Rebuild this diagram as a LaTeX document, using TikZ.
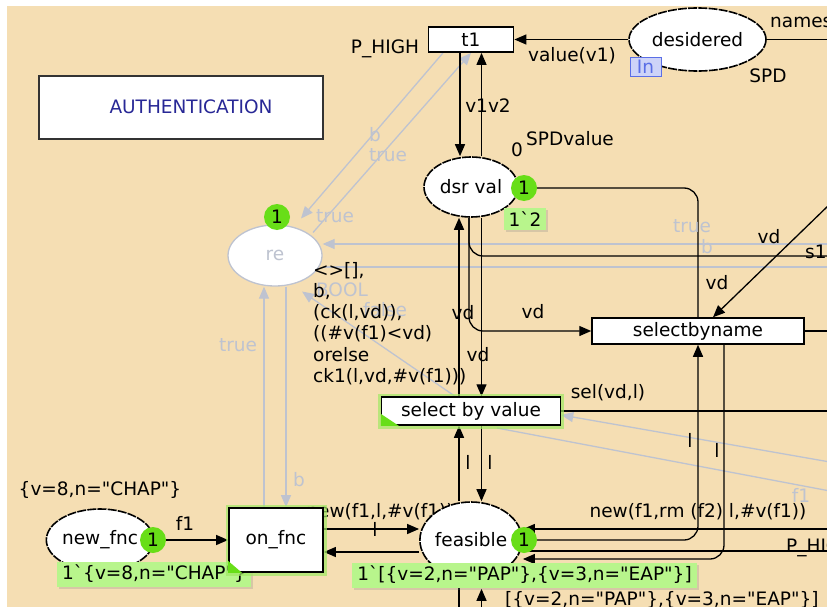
\documentclass[tikz,border=0pt]{standalone}
\usepackage{fontspec}
\setmainfont{DejaVu Sans}
\usetikzlibrary{arrows.meta,shapes.geometric,shadows}
\definecolor{canvas}{RGB}{245,222,179}
\definecolor{faded}{RGB}{190,195,208}
\definecolor{tokenGreen}{RGB}{104,222,24}
\definecolor{markGreen}{RGB}{184,245,140}
\definecolor{glowGreen}{RGB}{160,232,100}
\definecolor{authBlue}{RGB}{40,40,150}
\definecolor{portBlue}{RGB}{90,110,230}
\pgfdeclarelayer{canvasLayer}
\pgfdeclarelayer{arcLayer}
\pgfsetlayers{canvasLayer,arcLayer,main}
\newcommand{\dq}{\textquotedbl}

\begin{document}
\begin{tikzpicture}[x=1pt,y=-1pt,
	every node/.style={font=\fontsize{18.5}{21.2}\selectfont,inner sep=0pt},
	place/.style={shape=ellipse,draw,line width=1.6pt,dash pattern=on 9pt off 1.2pt,fill=white,minimum width=94pt,minimum height=60pt},
	trans/.style={shape=rectangle,draw,line width=1.8pt,fill=white},
	active/.style={preaction={draw=glowGreen,line width=7pt,opacity=0.7}},
	token/.style={shape=circle,fill=tokenGreen,minimum size=26pt},
	marking/.style={fill=markGreen,inner xsep=5pt,minimum height=25pt,drop shadow={shadow xshift=2pt,shadow yshift=-2pt,opacity=0.25}},
	cpnarc/.style={line width=1.3pt},
	arrowEnd/.style={-{Triangle[length=12pt,width=10pt]}},
	ghost/.style={faded,line width=1.3pt}]
	\useasboundingbox (0,0) rectangle (827,607);
	\begin{pgfonlayer}{canvasLayer}
		\fill[white] (0,0) rectangle (827,607);
		\fill[canvas] (7,6) rectangle (827,607);
	\end{pgfonlayer}

	\node (authNode) at (181,107.5)[trans,draw=black!80,line width=2pt,minimum width=284pt,minimum height=63pt] {};
	\node (authText) at (191,107)[text=authBlue] {AUTHENTICATION};

	\node (t1Node) at (471,39.5)[trans,minimum width=85pt,minimum height=25pt] {t1};
	\node (desideredNode) at (697.5,39.5)[place,minimum width=137pt,minimum height=63pt] {desidered};
	\node (inTag) at (645.5,66.5)[draw=portBlue,fill=portBlue!30,text=portBlue,minimum width=31pt,minimum height=19pt] {In};

	\node (dsrValNode) at (471,187)[place] {dsr val};
	\node (dsrTok) at (524,188)[token] {1};
	\node (dsrMark) at (525,219)[marking,minimum height=22pt] {1\textasciigrave 2};

	\node (reNode) at (275,255.5)[place,draw=faded,solid,line width=1.3pt,text=faded,minimum height=61pt] {re};
	\node (reTok) at (277,217)[token] {1};

	\node (selValNode) at (471,411)[trans,active,line width=1.5pt,minimum width=179pt,minimum height=28pt] {select by value};
	\fill[tokenGreen] (selValNode.south west) -- ++(0,-12) -- ++(18,12) -- cycle;
	\node (selNameNode) at (698,331)[trans,line width=1.5pt,minimum width=212pt,minimum height=26pt] {selectbyname};

	\node (newFncNode) at (100,540)[place,minimum height=62pt] {new\_fnc};
	\node (newTok) at (153,540)[token] {1};
	\node (newMark) at (154,574)[marking] {1\textasciigrave\{v=8,n=\dq CHAP\dq\}};
	\node (onFncNode) at (276,540)[trans,active,minimum width=94pt,minimum height=64pt] {on\_fnc};
	\fill[tokenGreen] (onFncNode.south west) -- ++(0,-12) -- ++(14,12) -- cycle;

	\node (feasibleNode) at (471,540)[place,minimum width=96pt,minimum height=76pt] {feasible};
	\node (feasTok) at (524,540)[token] {1};
	\node (feasMark) at (524.5,575)[marking] {1\textasciigrave[\{v=2,n=\dq PAP\dq\},\{v=3,n=\dq EAP\dq\}]};

	\coordinate (namesEnd) at (830,39.5);
	\coordinate (s1End) at (830,256);
	\coordinate (vdStart) at (830,204);
	\coordinate (selNameEnd) at (830,331);
	\coordinate (selEnd) at (830,411);
	\coordinate (newEnd) at (830,529);
	\coordinate (pHighEnd) at (830,551);
	\coordinate (bottomLeft) at (459,612);
	\coordinate (bottomRight) at (481.5,612);
	\coordinate (grayInEnd) at (830,244);
	\coordinate (grayOutEnd) at (830,267);
	\coordinate (graySelEnd) at (830,462);
	\coordinate (grayLowStart) at (497,428);
	\coordinate (grayLowEnd) at (830,491);

	\begin{pgfonlayer}{arcLayer}
		\draw[ghost,arrowEnd] ([xshift=-28pt]t1Node.south) -- ([shift={(26,-37)}]reNode.center);
		\draw[ghost,arrowEnd] ([shift={(38,-23)}]reNode.center) -- (t1Node.south);
		\draw[ghost,arrowEnd] (grayInEnd) -- ([yshift=11.5pt]reNode.east);
		\draw[ghost] ([yshift=-11.5pt]reNode.east) -- (grayOutEnd);
		\draw[ghost,arrowEnd] ([xshift=-12pt]onFncNode.north) -- ([xshift=-11pt]reNode.south);
		\draw[ghost,arrowEnd] ([xshift=11pt]reNode.south) -- ([xshift=10pt]onFncNode.north);
		\draw[ghost,arrowEnd] ([xshift=-16pt]selValNode.north) -- ([shift={(27,36)}]reNode.center);
		\draw[ghost,arrowEnd] (graySelEnd) -- ([yshift=-4pt]selValNode.east);
		\draw[ghost] (grayLowStart) -- (grayLowEnd);

		\draw[cpnarc,arrowEnd] (desideredNode.west) -- (t1Node.east);
		\draw[cpnarc] (desideredNode.east) -- (namesEnd);
		\draw[cpnarc,arrowEnd] ([xshift=-11pt]t1Node.south) -- ([xshift=-11pt]dsrValNode.north);
		\draw[cpnarc,arrowEnd] ([xshift=10.5pt]dsrValNode.north) -- ([xshift=10.5pt]t1Node.south);
		\draw[cpnarc,arrowEnd] ([xshift=-12pt]selValNode.north) -- ([xshift=-12pt]dsrValNode.south);
		\draw[cpnarc,arrowEnd] ([xshift=10.5pt]dsrValNode.south) -- ([xshift=10.5pt]selValNode.north);
		\draw[cpnarc,arrowEnd,rounded corners=14pt] ([xshift=-2pt]dsrValNode.south) |- (selNameNode.west);
		\draw[cpnarc,rounded corners=14pt] (s1End) -| ([xshift=-2pt]dsrValNode.south);
		\draw[cpnarc,rounded corners=14pt] (dsrTok.east) -| (selNameNode.north);
		\draw[cpnarc,arrowEnd] (vdStart) -- ([xshift=15pt]selNameNode.north);
		\draw[cpnarc] (selNameNode.east) -- (selNameEnd);
		\draw[cpnarc,arrowEnd] ([xshift=-12pt]feasibleNode.north) -- ([xshift=-12pt]selValNode.south);
		\draw[cpnarc,arrowEnd] ([xshift=10.5pt]selValNode.south) -- ([xshift=10.5pt]feasibleNode.north);
		\draw[cpnarc] (selValNode.east) -- (selEnd);
		\draw[cpnarc,arrowEnd,rounded corners=14pt] (feasTok.east) -| (selNameNode.south);
		\draw[cpnarc,arrowEnd,rounded corners=14pt] ([xshift=26pt]selNameNode.south) |- ([yshift=-19pt]feasibleNode.east);
		\draw[cpnarc,arrowEnd] (newEnd) -- ([yshift=11pt]feasibleNode.east);
		\draw[cpnarc] ([yshift=-11pt]feasibleNode.east) -- (pHighEnd);
		\draw[cpnarc,arrowEnd] ([yshift=11pt]onFncNode.east) -- ([yshift=11pt]feasibleNode.west);
		\draw[cpnarc,arrowEnd] ([yshift=-12pt]feasibleNode.west) -- ([yshift=-12pt]onFncNode.east);
		\draw[cpnarc,arrowEnd] (newTok.east) -- (onFncNode.west);
		\draw[cpnarc] ([xshift=-12pt]feasibleNode.south) -- (bottomLeft);
		\draw[cpnarc,arrowEnd] (bottomRight) -- ([xshift=10.5pt,yshift=-10pt]feasibleNode.south);

		\node (newLabel) at (380,512) {new(f1,l,\#v(f1))};
	\end{pgfonlayer}

	\node (pHighTop) at (385,49) {P\_HIGH};
	\node (valueLabel) at (572,56) {value(v1)};
	\node (namesLabel) at (770,22)[anchor=west] {names};
	\node (spdLabel) at (768,76) {SPD};
	\node (v1v2Label) at (488,106) {v1v2};
	\node (zeroLabel) at (517,150) {0};
	\node (spdValueLabel) at (570,139) {SPDvalue};
	\node (bTopLabel) at (375,135)[text=faded] {b};
	\node (trueTopLabel) at (388,155)[text=faded] {true};
	\node (trueReLabel) at (335,216)[text=faded] {true};
	\node (trueRightLabel) at (692,226)[text=faded] {true};
	\node (bRightLabel) at (707,247)[text=faded] {b};
	\node (boolLabel) at (342,290)[text=faded] {BOOL};
	\node (falseLabel) at (385,310)[text=faded] {false};
	\node (trueLeftLabel) at (238,345)[text=faded] {true};
	\node (bLowLabel) at (299,480)[text=faded] {b};
	\node (f1GrayLabel) at (801,495)[text=faded] {f1};
	\node (guardLabel) at (313,262)[anchor=north west,align=left] {<>[],\\b,\\(ck(l,vd)),\\((\#v(f1)<vd)\\orelse\\ck1(l,vd,\#v(f1)))};
	\node (vdLeftLabel) at (463,313) {vd};
	\node (vdMidLabel) at (478,355) {vd};
	\node (vdArcLabel) at (533,312) {vd};
	\node (vdTopLabel) at (769,237) {vd};
	\node (vdDiagLabel) at (717,283) {vd};
	\node (s1Label) at (805,252)[anchor=west] {s1};
	\node (selLabel) at (608,393) {sel(vd,l)};
	\node (lLeftLabel) at (468,462) {l};
	\node (lRightLabel) at (490,462) {l};
	\node (lFarLabel) at (690,440) {l};
	\node (lFarLabel2) at (717,450) {l};
	\node (lTickLabel) at (375,529) {l};
	\node (rmLabel) at (698,512) {new(f1,rm (f2) l,\#v(f1))};
	\node (pHighLow) at (786,548)[anchor=west] {P\_HIGH};
	\node (chapLabel) at (100,490) {\{v=8,n=\dq CHAP\dq\}};
	\node (f1Label) at (185,523) {f1};
	\node (initLabel) at (505,600)[anchor=west] {[\{v=2,n=\dq PAP\dq\},\{v=3,n=\dq EAP\dq\}]};
\end{tikzpicture}
\end{document}
